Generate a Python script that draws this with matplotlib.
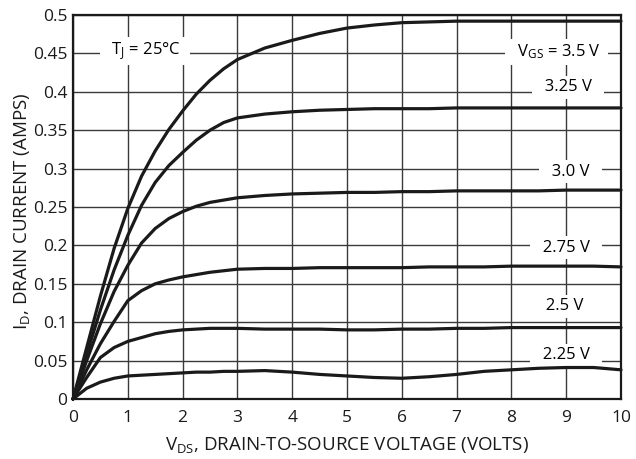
import numpy as np
import matplotlib
matplotlib.use("agg")
import matplotlib.pyplot as plt

plt.rcParams["font.family"] = ["Open Sans", "DejaVu Sans"]
plt.rcParams["mathtext.fontset"] = "custom"
plt.rcParams["mathtext.rm"] = "Open Sans"
plt.rcParams["mathtext.it"] = "Open Sans"

# Drain-to-source voltage (V)
VDS = [0, 0.25, 0.5, 0.75, 1, 1.25, 1.5, 1.75, 2, 2.25, 2.5, 2.75, 3,
       3.5, 4, 4.5, 5, 5.5, 6, 6.5, 7, 7.5, 8, 8.5, 9, 9.5, 10]

# Drain current (A), one list per gate voltage
ID_350 = [0, .067, .134, .196, .248, .290, .323, .351, .375, .397, .415, .430, .442,
          .457, .467, .476, .483, .487, .490, .491, .492, .492, .492, .492, .492, .492, .492]
ID_325 = [0, .058, .116, .168, .213, .252, .282, .304, .321, .337, .350, .360, .366,
          .371, .374, .376, .377, .378, .378, .378, .379, .379, .379, .379, .379, .379, .379]
ID_300 = [0, .050, .098, .140, .174, .203, .222, .235, .244, .251, .256, .259, .262,
          .265, .267, .268, .269, .269, .270, .270, .271, .271, .271, .271, .272, .272, .272]
ID_275 = [0, .038, .072, .101, .128, .141, .150, .155, .159, .162, .165, .167, .169,
          .170, .170, .171, .171, .171, .171, .172, .172, .172, .173, .173, .173, .173, .172]
ID_250 = [0, .028, .054, .067, .075, .080, .085, .088, .090, .091, .092, .092, .092,
          .091, .091, .091, .090, .090, .091, .091, .092, .092, .093, .093, .093, .093, .093]
ID_225 = [0, .014, .022, .027, .030, .031, .032, .033, .034, .035, .035, .036, .036,
          .037, .035, .032, .030, .028, .027, .029, .032, .036, .038, .040, .041, .041, .038]

CURVES = [ID_350, ID_325, ID_300, ID_275, ID_250, ID_225]
VGS_LABELS = [r"$\mathregular{V_{GS}}$ = 3.5 V", "3.25 V", "3.0 V", "2.75 V", "2.5 V", "2.25 V"]

# where the curve labels sit (data coords)
LABEL_X = [8.83, 9.03, 9.08, 9.0, 8.97, 9.0]
LABEL_Y = [0.452, 0.406, 0.296, 0.197, 0.121, 0.057]

fig = plt.figure(figsize=(6.36, 4.59), dpi=100)
ax = fig.add_axes([73 / 636, 60 / 459, 548 / 636, 384 / 459])

for cur in CURVES:
	ax.plot(VDS, cur, color="#1a1a1a", lw=2.3, solid_joinstyle="round",
		solid_capstyle="round", zorder=4, clip_on=False)

box = dict(facecolor="white", edgecolor="none", pad=2.5)
for lbl, lx, ly in zip(VGS_LABELS, LABEL_X, LABEL_Y):
	ax.text(lx, ly, "  " + lbl + "  ", ha="center", va="center", fontsize=12,
		bbox=box, zorder=3)
ax.text(1.31, 0.453, "  " + r"$\mathregular{T_J}$ = 25°C" + "  ", ha="center",
	va="center", fontsize=12, bbox=box, zorder=3)

ax.set_xlim(0, 10)
ax.set_ylim(0, 0.5)
ax.set_xticks(np.arange(0, 11, 1))
ax.set_yticks(np.arange(0, 0.501, 0.05))
ax.set_yticklabels(["0", "0.05", "0.1", "0.15", "0.2", "0.25", "0.3", "0.35",
	"0.4", "0.45", "0.5"])
ax.tick_params(length=0, labelsize=12.5, colors="#1a1a1a")
ax.tick_params(axis="x", pad=8)
ax.tick_params(axis="y", pad=4)
ax.grid(True, color="#3a3a3a", lw=1.0, zorder=1)
ax.set_axisbelow(True)
for sp in ax.spines.values():
	sp.set_linewidth(1.6)
	sp.set_color("#1a1a1a")

ax.set_xlabel(r"$\mathregular{V_{DS}}$, DRAIN-TO-SOURCE VOLTAGE (VOLTS)", fontsize=13.5,
	color="#1a1a1a")
ax.xaxis.set_label_coords(0.5, -0.095)
ax.set_ylabel(r"$\mathregular{I_D}$, DRAIN CURRENT (AMPS)", fontsize=13.5, color="#1a1a1a")
ax.yaxis.set_label_coords(-0.075, 0.49)

plt.savefig("out.png", dpi=100)
